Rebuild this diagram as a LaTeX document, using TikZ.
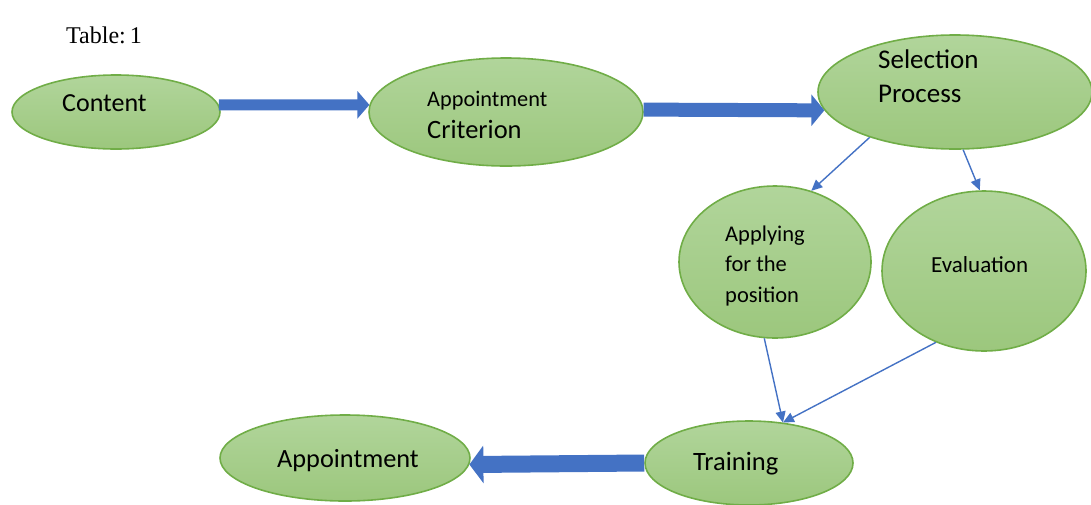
\documentclass[tikz,border=0pt]{standalone}
\usepackage{fontspec}
\setmainfont{Carlito}
\newfontfamily\captionfont{Liberation Serif}
\usetikzlibrary{shapes.geometric,arrows.meta}
\definecolor{leafedge}{HTML}{70AD47}
\definecolor{leaftop}{HTML}{B1D59B}
\definecolor{leafbot}{HTML}{9CC77D}
\definecolor{flowblue}{HTML}{4472C4}
\begin{document}
\begin{tikzpicture}[x=1pt,y=-1pt,
  bubble/.style n args={2}{ellipse, draw=leafedge, line width=1.6pt,
    top color=leaftop, bottom color=leafbot, inner sep=0pt,
    minimum width=#1, minimum height=#2},
  words/.style n args={1}{anchor=base west, inner sep=0pt, font=\fontsize{#1}{#1}\selectfont},
  fatarrow/.style n args={3}{draw=flowblue, line width=#1,
    -{Triangle[length=#2, width=#3]}},
  thinarrow/.style={draw=flowblue, line width=1.4pt,
    -{Triangle[length=11pt, width=10pt]}}
]
\useasboundingbox (0,0) rectangle (1091,504);

% caption
\node[anchor=base west, inner sep=0pt, font=\captionfont\fontsize{24}{24}\selectfont]
  (caption) at (66,43) {Table:\,1};

% bubbles
\node[bubble={208pt}{74pt}]  (content) at (116,112) {};
\node[bubble={274pt}{108pt}] (crit)    at (506,112) {};
\node[bubble={274pt}{114pt}] (select)  at (955,92)  {};
\node[bubble={192pt}{152pt}] (apply)   at (775,262) {};
\node[bubble={204pt}{160pt}] (eval)    at (984,271) {};
\node[bubble={208pt}{84pt}]  (train)   at (749,463) {};
\node[bubble={250pt}{86pt}]  (appt)    at (345,458) {};

% labels
\node[words={26}] (contentT) at (62,111)  {Content};
\node[words={22.3}] (critA)  at (427,106) {Appointment};
\node[words={26.5}] (critB)  at (427,138) {Criterion};
\node[words={27}] (selA)     at (878,68)  {Selection};
\node[words={27}] (selB)     at (878,102) {Process};
\node[words={22.5}] (appA)   at (725,241) {Applying};
\node[words={22.5}] (appB)   at (725,271) {for the};
\node[words={22.5}] (appC)   at (725,302) {position};
\node[words={23}] (evalT)    at (931,272) {Evaluation};
\node[words={26.5}] (trainT) at (693,470) {Training};
\node[words={26.3}] (apptT)  at (277,467) {Appointment};

% main flow
\draw[fatarrow={11pt}{12pt}{27pt}] (content.4) -- (crit.177);
\draw[fatarrow={14pt}{13pt}{31pt}] (crit.1) -- (select.188);
\draw[fatarrow={17pt}{14pt}{37pt}] (train.west) -- (appt.357);

% branches of the selection process
\draw[thinarrow] (select.208) -- (apply.63);
\draw[thinarrow] (select.278) -- (eval.93);
\draw[thinarrow] (apply.262) -- (train.50);
\draw[thinarrow] (eval.236) -- (train.50);
\end{tikzpicture}
\end{document}
